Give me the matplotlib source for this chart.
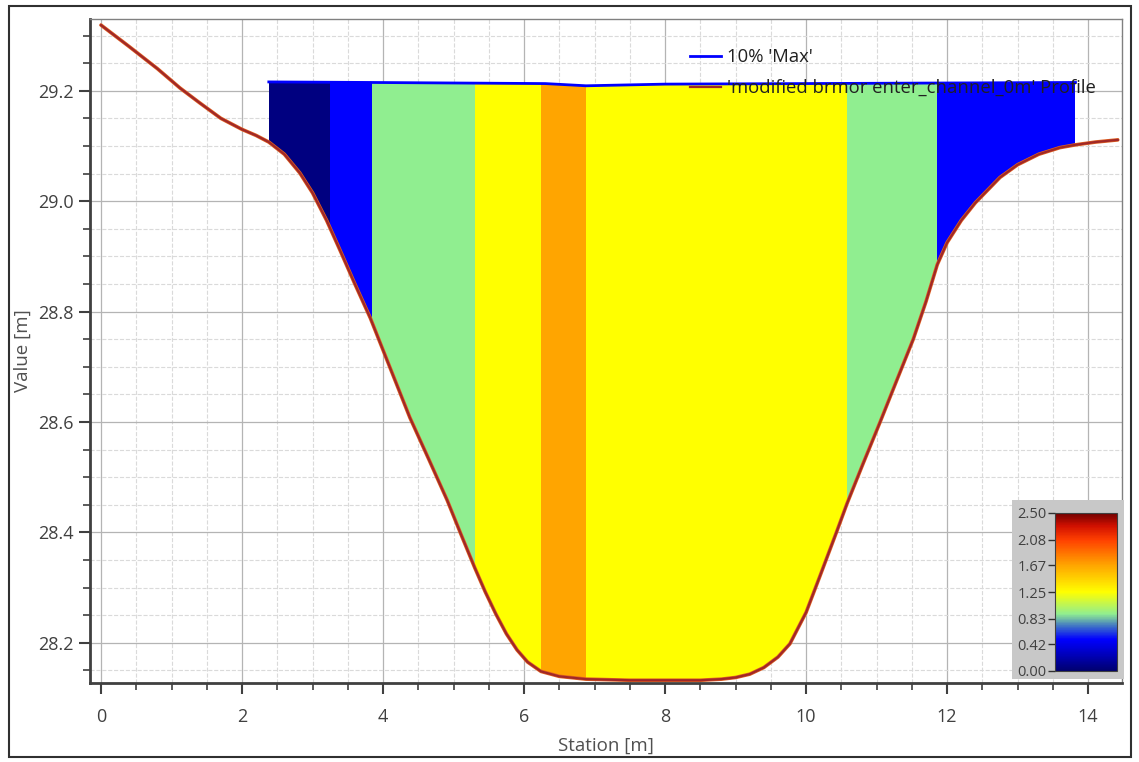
import matplotlib
matplotlib.use('Agg')
import matplotlib.pyplot as plt
from matplotlib.patches import Polygon, Rectangle
from matplotlib.colors import LinearSegmentedColormap, Normalize
from matplotlib.cm import ScalarMappable
from matplotlib.ticker import MultipleLocator

plt.rcParams['font.family'] = ['Open Sans', 'DejaVu Sans']

# ground profile
station = [0.0, 0.4, 0.8, 1.12, 1.4, 1.7, 2.0, 2.2, 2.38, 2.6, 2.82, 3.0, 3.2, 3.39, 3.6,
           3.82, 4.1, 4.38, 4.65, 4.91, 5.1, 5.30, 5.45, 5.6, 5.75, 5.9, 6.05, 6.24, 6.5,
           6.88, 7.5, 8.5, 8.8, 9.0, 9.2, 9.4, 9.6, 9.77, 10.0, 10.2, 10.43, 10.58, 10.8,
           11.05, 11.3, 11.52, 11.7, 11.86, 12.0, 12.2, 12.4, 12.75, 13.0, 13.3, 13.6,
           13.82, 14.1, 14.42]
elevation = [29.319, 29.280, 29.240, 29.205, 29.178, 29.150, 29.130, 29.119, 29.107, 29.085,
             29.051, 29.015, 28.965, 28.911, 28.850, 28.788, 28.698, 28.608, 28.532, 28.458,
             28.398, 28.336, 28.292, 28.252, 28.216, 28.187, 28.165, 28.148, 28.139, 28.134,
             28.132, 28.132, 28.134, 28.137, 28.143, 28.155, 28.174, 28.198, 28.255, 28.322,
             28.400, 28.452, 28.522, 28.600, 28.680, 28.750, 28.818, 28.885, 28.925, 28.965,
             28.997, 29.043, 29.066, 29.085, 29.097, 29.102, 29.107, 29.111]

# water surface (10% 'Max')
wse_station = [2.38, 3.84, 6.3, 6.88, 8.0, 13.82]
wse = [29.216, 29.215, 29.213, 29.209, 29.212, 29.215]

# velocity bands
band_edges = [2.38, 3.25, 3.84, 5.30, 6.24, 6.88, 10.58, 11.86, 13.82]
band_colors = ['#000080', '#0000ff', '#90ee90', '#ffff00', '#ffa500', '#ffff00', '#90ee90', '#0000ff']

cbar_ticks = [0.00, 0.42, 0.83, 1.25, 1.67, 2.08, 2.50]

fig = plt.figure(figsize=(11.39, 7.62), dpi=100)
ax = fig.add_axes([90 / 1139, 1 - 683 / 762, 1032 / 1139, 664 / 762])

# water polygon: surface left->right, then bed right->left
inside = [(s, e) for s, e in zip(station, elevation) if wse_station[0] <= s <= wse_station[-1]]
poly_pts = list(zip(wse_station, wse)) + inside[::-1]
for x0, x1, c in zip(band_edges[:-1], band_edges[1:], band_colors):
    p = Polygon(poly_pts, closed=True, facecolor=c, edgecolor='none', zorder=2)
    ax.add_patch(p)
    clip = Rectangle((x0, 28.0), x1 - x0, 1.5, transform=ax.transData)
    p.set_clip_path(clip)

ax.plot(wse_station, wse, color='#0000ff', lw=2, zorder=3, label="10% 'Max'")
ax.plot(station, elevation, color='#e06020', lw=2.6, zorder=4, solid_capstyle='round')
ax.plot(station, elevation, color='#a02828', lw=1.6, zorder=4,
        label="'modified brmor enter_channel_0m' Profile")

ax.set_xlim(-0.156, 14.48)
ax.set_ylim(28.127, 29.33)
ax.xaxis.set_major_locator(MultipleLocator(2))
ax.xaxis.set_minor_locator(MultipleLocator(0.5))
ax.yaxis.set_major_locator(MultipleLocator(0.2))
ax.yaxis.set_minor_locator(MultipleLocator(0.05))
ax.set_axisbelow(True)
ax.grid(which='major', color='#b4b4b4', lw=0.9)
ax.grid(which='minor', color='#dadada', lw=0.8, ls='--')
ax.tick_params(which='major', direction='out', length=8, width=1.5, colors='#404040',
               labelsize=13, labelcolor='#404040')
ax.tick_params(axis='x', which='major', pad=10)
ax.tick_params(axis='y', which='major', pad=4)
ax.tick_params(which='minor', direction='out', length=5, width=1.2, colors='#404040')
for side in ['left', 'bottom']:
    ax.spines[side].set_color('#404040')
    ax.spines[side].set_linewidth(2)
for side in ['top', 'right']:
    ax.spines[side].set_color('#808080')
    ax.spines[side].set_linewidth(1)

ax.set_xlabel('Station [m]', fontsize=13.5, color='#505050', labelpad=8)
ax.set_ylabel('Value [m]', fontsize=13.5, color='#505050', labelpad=4)

ax.legend(loc='upper left', bbox_to_anchor=(0.581, 0.956), frameon=False, fontsize=13.3,
          handlelength=1.7, handletextpad=0.3, labelspacing=0.7, borderaxespad=0,
          borderpad=0, labelcolor='#202020')

# colorbar with grey background
bg = fig.add_axes([1012 / 1139, 1 - 679 / 762, 112 / 1139, 179 / 762])
bg.set_facecolor('#c8c8c8')
bg.set_xticks([])
bg.set_yticks([])
for sp in bg.spines.values():
    sp.set_visible(False)

cmap = LinearSegmentedColormap.from_list('vel', [
    (0.0, '#00006e'), (0.12, '#0000c8'), (0.2, '#0000ff'), (0.28, '#3c6ec8'),
    (0.36, '#90ee90'), (0.5, '#ffff00'), (0.67, '#ffa500'), (0.83, '#ff4000'),
    (0.92, '#d01000'), (1.0, '#700000')])
cax = fig.add_axes([1055 / 1139, 1 - 671 / 762, 62 / 1139, 158 / 762])
cb = fig.colorbar(ScalarMappable(norm=Normalize(0, 2.5), cmap=cmap), cax=cax, ticks=cbar_ticks)
cax.yaxis.set_ticks_position('left')
cax.yaxis.set_label_position('left')
cb.set_ticklabels([f'{t:.2f}' for t in cbar_ticks])
cax.tick_params(length=5, width=1, colors='#303030', labelsize=10.5, labelcolor='#404040', pad=1)
cb.outline.set_edgecolor('#404040')
cb.outline.set_linewidth(0.8)

# outer frame
fig.patches.append(Rectangle((9 / 1139, 1 - 757 / 762), 1122 / 1139, 751 / 762, fill=False,
                             ec='#303030', lw=1.5, transform=fig.transFigure))

plt.savefig('out.png', dpi=100)
plt.close()
